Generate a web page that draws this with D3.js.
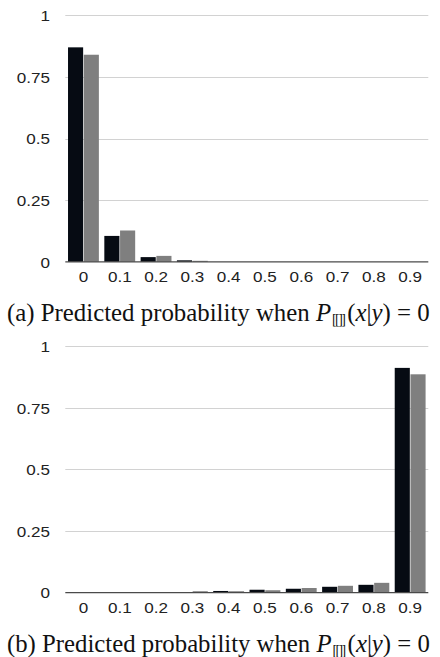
<!DOCTYPE html>
<html>
<head>
<meta charset="utf-8">
<script src="https://cdn.jsdelivr.net/npm/d3@7"></script>
<style>
  html, body { margin: 0; padding: 0; background: #fff; }
  svg { display: block; }
  .tick-label { font-family: "Liberation Sans", Arial, sans-serif; font-size: 14px; fill: #222; }
  .caption { font-family: "Liberation Serif", "Times New Roman", serif; font-size: 25px; fill: #111; }
  .bracket { font-family: "Liberation Serif", serif; font-size: 14px; letter-spacing: -1.6px; }
</style>
</head>
<body>
<svg id="chart" width="440" height="657"></svg>
<script>
const bins = ['0', '0.1', '0.2', '0.3', '0.4', '0.5', '0.6', '0.7', '0.8', '0.9'];
const yTicks = [0, 0.25, 0.5, 0.75, 1];
const yTickLabels = ['0', '0.25', '0.5', '0.75', '1'];

// panel (a)
const topBlack = [0.87, 0.105, 0.019, 0.006, 0, 0, 0, 0, 0, 0];
const topGray = [0.84, 0.127, 0.024, 0.004, 0, 0, 0, 0, 0, 0];
// panel (b)
const bottomBlack = [0, 0, 0, 0.001, 0.007, 0.012, 0.016, 0.024, 0.032, 0.912];
const bottomGray = [0, 0, 0.001, 0.006, 0.006, 0.01, 0.019, 0.028, 0.04, 0.886];

const seriesNames = ['black', 'gray'];
const seriesColors = ['#060b13', '#7f7f7f'];

const svg = d3.select('#chart');

function drawPanel(top, values, caption) {
  const g = svg.append('g');

  const x0 = d3.scaleBand()
    .domain(bins)
    .range([65.3, 428.3])
    .paddingInner(0.15)
    .paddingOuter(0.075);

  const x1 = d3.scaleBand()
    .domain(seriesNames)
    .range([0, x0.bandwidth()])
    .paddingInner(0.04);

  const y = d3.scaleLinear()
    .domain([0, 1])
    .range([top + 246.5, top]);

  // gridlines
  g.append('g')
    .selectAll('line')
    .data(yTicks.filter((d) => d > 0))
    .join('line')
    .attr('x1', 65.3)
    .attr('x2', 428.3)
    .attr('y1', (d) => Math.round(y(d)) + 0.5)
    .attr('y2', (d) => Math.round(y(d)) + 0.5)
    .attr('stroke', '#d2d2d2')
    .attr('stroke-width', 1);

  // y labels (the source text is a bit wide, so stretch it)
  g.append('g')
    .selectAll('text')
    .data(yTicks)
    .join('text')
    .attr('class', 'tick-label')
    .attr('transform', (d) => `translate(50,${y(d) + 0.8}) scale(1.22,1)`)
    .attr('dy', '0.35em')
    .attr('text-anchor', 'end')
    .text((d, i) => yTickLabels[i]);

  // bars
  const groups = g.append('g')
    .selectAll('g')
    .data(bins.map((b, i) => ({ bin: b, vals: values.map((s) => s[i]) })))
    .join('g')
    .attr('transform', (d) => `translate(${x0(d.bin)},0)`);

  groups.selectAll('rect')
    .data((d) => d.vals.map((v, j) => ({ key: seriesNames[j], value: v, color: seriesColors[j] })))
    .join('rect')
    .attr('x', (d) => x1(d.key))
    .attr('width', x1.bandwidth())
    .attr('y', (d) => y(d.value))
    .attr('height', (d) => y(0) - y(d.value))
    .attr('fill', (d) => d.color);

  // baseline axis
  g.append('line')
    .attr('x1', 65.3)
    .attr('x2', 428.3)
    .attr('y1', y(0))
    .attr('y2', y(0))
    .attr('stroke', '#4a4a4a')
    .attr('stroke-width', 1.2);

  // x labels
  g.append('g')
    .selectAll('text')
    .data(bins)
    .join('text')
    .attr('class', 'tick-label')
    .attr('transform', (d) => `translate(${x0(d) + x0.bandwidth() / 2},${y(0) + 20.5}) scale(1.22,1)`)
    .attr('text-anchor', 'middle')
    .text((d) => d);

  // caption
  const capY = top + 305.6;
  const cap = g.append('text')
    .attr('class', 'caption')
    .attr('transform', `translate(7,${capY})`);
  cap.append('tspan').text(caption + ' Predicted probability when ');
  cap.append('tspan').attr('font-style', 'italic').text('P');
  cap.append('tspan').attr('class', 'bracket').attr('dy', 3).attr('dx', 1).text('[[]]');
  cap.append('tspan').attr('dy', -3).attr('dx', 3).text('(');
  cap.append('tspan').attr('font-style', 'italic').text('x');
  cap.append('tspan').text('|');
  cap.append('tspan').attr('font-style', 'italic').text('y');
  cap.append('tspan').text(') = 0');

  // fit caption to the width it covers in the source
  const w = cap.node().getBBox().width;
  cap.attr('transform', `translate(7,${capY}) scale(${423 / w},1)`);
}

drawPanel(15.3, [topBlack, topGray], '(a)');
drawPanel(346.2, [bottomBlack, bottomGray], '(b)');
</script>
</body>
</html>
